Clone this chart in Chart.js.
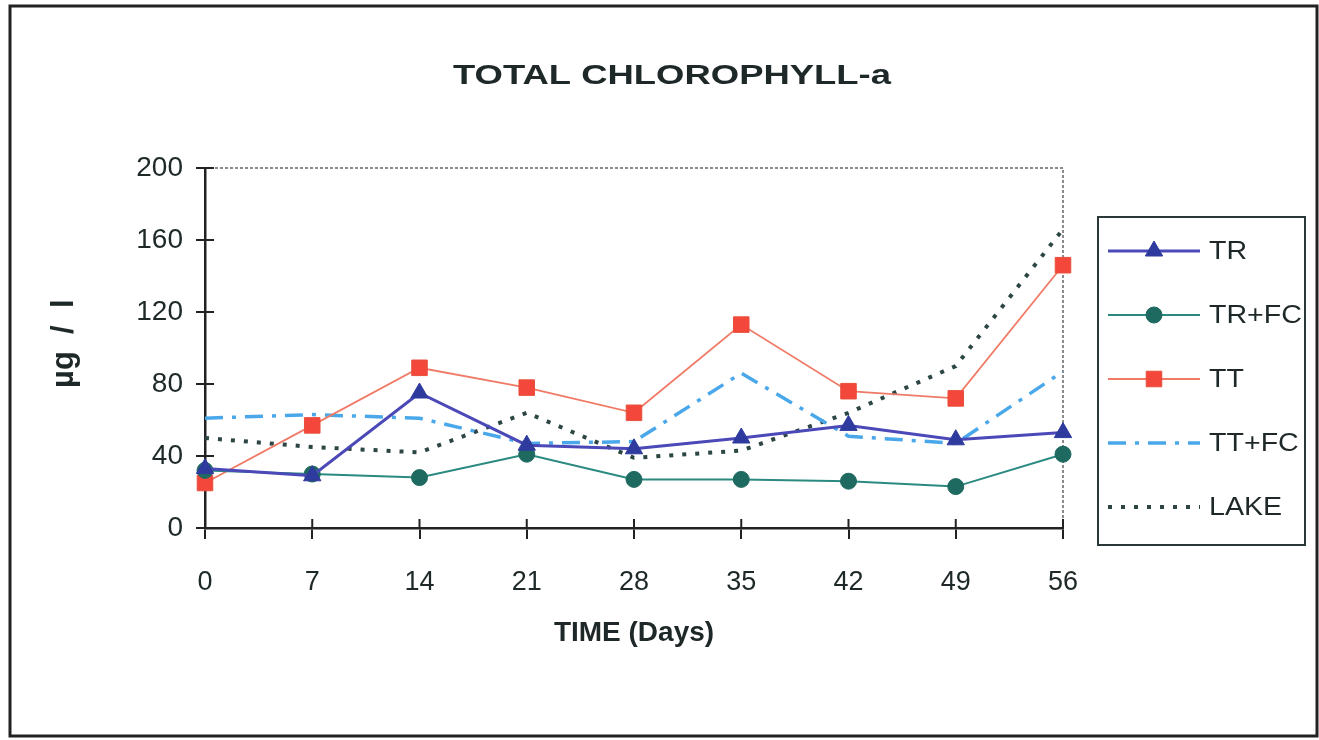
<!DOCTYPE html>
<html>
<head>
<meta charset="utf-8">
<script src="https://cdn.jsdelivr.net/npm/chart.js"></script>
<style>
  html, body { margin: 0; padding: 0; background: #fff; }
  canvas { display: block; }
</style>
</head>
<body>
<canvas id="chlChart" width="1319" height="740"></canvas>
<script>
// values
var days = ['0', '7', '14', '21', '28', '35', '42', '49', '56'];
var seriesNames = ['TR', 'TR+FC', 'TT', 'TT+FC', 'LAKE'];
var tr   = [33, 29, 75, 46, 44, 50, 57, 49, 53];
var trfc = [32, 30, 28, 41, 27, 27, 26, 23, 41];
var tt   = [25, 57, 89, 78, 64, 113, 76, 72, 146];
var ttfc = [61, 63, 61, 47, 48, 86, 51, 47, 87];
var lake = [50, 45, 42, 64, 39, 43, 64, 90, 166];
var yTicks = [0, 40, 80, 120, 160, 200];

var ink = '#1e2828';

// text with a horizontal stretch, like the scanned original
function wideText(ctx, txt, x, y, font, sx, align) {
	ctx.save();
	ctx.font = font;
	ctx.fillStyle = ink;
	ctx.textBaseline = 'middle';
	var w = ctx.measureText(txt).width * sx;
	var left = align === 'center' ? x - w / 2 : x;
	ctx.translate(left, y);
	ctx.scale(sx, 1);
	ctx.textAlign = 'left';
	ctx.fillText(txt, 0, 0);
	ctx.restore();
}

function marker(ctx, style, r, x, y) {
	ctx.beginPath();
	if (style === 'triangle') {
		ctx.moveTo(x, y - r);
		ctx.lineTo(x + r * 0.866, y + r / 2);
		ctx.lineTo(x - r * 0.866, y + r / 2);
		ctx.closePath();
	} else if (style === 'rect') {
		var s = r * Math.SQRT1_2;
		ctx.rect(x - s, y - s, 2 * s, 2 * s);
	} else {
		ctx.arc(x, y, r, 0, Math.PI * 2);
	}
	ctx.fill();
	ctx.stroke();
}

var framePlugin = {
	id: 'framePlugin',
	beforeDraw: function(chart) {
		var ctx = chart.ctx;
		ctx.save();
		ctx.fillStyle = '#fff';
		ctx.fillRect(0, 0, chart.width, chart.height);
		ctx.strokeStyle = '#222';
		ctx.lineWidth = 3;
		ctx.strokeRect(10, 6, 1307, 730);
		ctx.restore();
		wideText(ctx, 'TOTAL CHLOROPHYLL-a', 672, 77, 'bold 27px "Liberation Sans", Arial, sans-serif', 1.35, 'center');
	},
	beforeDatasetsDraw: function(chart) {
		var ctx = chart.ctx, a = chart.chartArea;
		var xs = chart.scales.x, ys = chart.scales.y;
		ctx.save();
		// dotted plot-area border on top and right
		ctx.strokeStyle = '#666';
		ctx.lineWidth = 1.5;
		ctx.setLineDash([3, 2]);
		ctx.beginPath();
		ctx.moveTo(a.left, a.top);
		ctx.lineTo(a.right, a.top);
		ctx.lineTo(a.right, a.bottom);
		ctx.stroke();
		ctx.setLineDash([]);
		// tick marks crossing into the plot
		ctx.strokeStyle = '#222';
		ctx.lineWidth = 2;
		ctx.beginPath();
		yTicks.forEach(function(v) {
			var py = ys.getPixelForValue(v);
			ctx.moveTo(a.left, py);
			ctx.lineTo(a.left + 9, py);
		});
		days.forEach(function(d, i) {
			var px = xs.getPixelForValue(i);
			ctx.moveTo(px, a.bottom);
			ctx.lineTo(px, a.bottom - 9);
		});
		ctx.stroke();
		ctx.restore();
	},
	afterDraw: function(chart) {
		var ctx = chart.ctx;
		var bx = 1098, by = 217, bw = 207, bh = 328;
		ctx.save();
		ctx.strokeStyle = '#2a3838';
		ctx.lineWidth = 2;
		ctx.strokeRect(bx, by, bw, bh);
		chart.data.datasets.forEach(function(ds, i) {
			var y = 251 + i * 64;
			ctx.save();
			ctx.strokeStyle = ds.borderColor;
			ctx.lineWidth = ds.borderWidth;
			ctx.setLineDash(ds.borderDash || []);
			ctx.beginPath();
			ctx.moveTo(1108, y);
			ctx.lineTo(1200, y);
			ctx.stroke();
			ctx.setLineDash([]);
			if (ds.pointRadius > 0) {
				ctx.fillStyle = ds.pointBackgroundColor;
				ctx.strokeStyle = ds.pointBorderColor;
				ctx.lineWidth = 1;
				marker(ctx, ds.pointStyle, ds.pointRadius, 1154, y);
			}
			ctx.restore();
			wideText(ctx, ds.label, 1209, y + 1, '26px "Liberation Sans", Arial, sans-serif', 1.1, 'left');
		});
		ctx.restore();
	}
};

var ctx = document.getElementById('chlChart');
var myChart = new Chart(ctx, {
	type: 'line',
	data: {
		labels: days,
		datasets: [{
			label: seriesNames[0],
			data: tr,
			borderColor: '#4b48b8',
			borderWidth: 3,
			pointStyle: 'triangle',
			pointRadius: 10,
			pointBackgroundColor: '#2e3a9e',
			pointBorderColor: '#2e3a9e',
			pointBorderWidth: 1
		}, {
			label: seriesNames[1],
			data: trfc,
			borderColor: '#2a8a80',
			borderWidth: 2,
			pointStyle: 'circle',
			pointRadius: 8,
			pointBackgroundColor: '#1f6a60',
			pointBorderColor: '#1f6a60',
			pointBorderWidth: 1
		}, {
			label: seriesNames[2],
			data: tt,
			borderColor: '#f07a66',
			borderWidth: 1.8,
			pointStyle: 'rect',
			pointRadius: 11,
			pointBackgroundColor: '#f2473a',
			pointBorderColor: '#e8503e',
			pointBorderWidth: 1
		}, {
			label: seriesNames[3],
			data: ttfc,
			borderColor: '#4aa8ea',
			borderWidth: 3.5,
			borderDash: [18, 9, 4, 9],
			pointRadius: 0
		}, {
			label: seriesNames[4],
			data: lake,
			borderColor: '#2c4644',
			borderWidth: 4,
			borderDash: [4, 9],
			pointRadius: 0
		}]
	},
	plugins: [framePlugin],
	options: {
		responsive: false,
		animation: false,
		layout: {
			padding: { left: 20, right: 256, top: 168, bottom: 0 }
		},
		plugins: {
			legend: { display: false },
			title: { display: false },
			tooltip: { enabled: false }
		},
		scales: {
			x: {
				afterFit: function(scale) { scale.height = 212; },
				grid: { drawOnChartArea: false, drawTicks: true, tickLength: 11, color: '#222', lineWidth: 2 },
				border: { display: true, color: '#222', width: 2.5 },
				ticks: {
					color: ink,
					padding: 27,
					maxRotation: 0,
					font: { family: '"Liberation Sans", Arial, sans-serif', size: 27 }
				},
				title: {
					display: true,
					text: 'TIME (Days)',
					color: ink,
					padding: { top: 0, bottom: 90 },
					font: { family: '"Liberation Sans", Arial, sans-serif', size: 28, weight: 'bold' }
				}
			},
			y: {
				min: 0,
				max: 200,
				afterFit: function(scale) { scale.width = 185; },
				afterBuildTicks: function(scale) {
					scale.ticks = yTicks.map(function(v) { return { value: v }; });
				},
				grid: { drawOnChartArea: false, drawTicks: true, tickLength: 9, color: '#222', lineWidth: 2 },
				border: { display: true, color: '#222', width: 2.5 },
				ticks: {
					color: ink,
					padding: 13,
					font: { family: '"Liberation Sans", Arial, sans-serif', size: 28 }
				},
				title: {
					display: true,
					text: ' µg  /  l',
					color: ink,
					padding: { top: 26, bottom: 0 },
					font: { family: '"Liberation Sans", Arial, sans-serif', size: 31, weight: 'bold' }
				}
			}
		}
	}
});
</script>
</body>
</html>
